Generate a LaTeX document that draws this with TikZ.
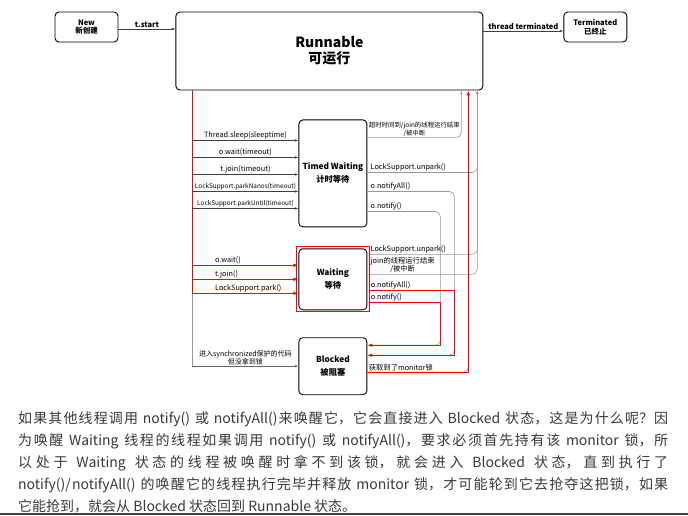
\documentclass[tikz,border=0pt]{standalone}
\usepackage{fontspec}
\setmainfont{Noto Sans CJK SC}
\usepackage{xcolor}
\usepackage{tikz}
\usetikzlibrary{positioning}
\usetikzlibrary{arrows.meta}

\begin{document}
\begin{tikzpicture}[x=1pt, y=-1pt]

        \def\d{21pt}
        \def\h{27pt}

        % Styles of the states and of the transitions
        \tikzset{
            state/.style={draw, rounded corners=4pt, line width=0.9pt,
                align=center, inner sep=1pt},
            bigstate/.style={state, minimum width=68pt,
                font=\fontsize{8.3}{13}\selectfont\bfseries},
            lbl/.style={font=\fontsize{7.3}{8}\selectfont, inner sep=1pt},
            lbls/.style={font=\fontsize{6.4}{7.5}\selectfont, inner sep=1pt},
            darr/.style={draw=black!75, line width=0.5pt,
                -{Latex[length=3.5pt, width=2.4pt]}},
            garr/.style={draw=black!40, line width=0.6pt, rounded corners=5pt,
                -{Latex[length=3.5pt, width=2.4pt]}},
            rarr/.style={draw=red, line width=1pt,
                -{Latex[length=5pt, width=3.6pt]}}
        }

        \useasboundingbox (0,0) rectangle (688,516);

        % Scope with the states
        \begin{scope}
            \node[state, minimum width=63pt, minimum height=30pt,
                font=\fontsize{7.5}{8.5}\selectfont\bfseries]
                (new) at (86.5, 27) {New\\新创建};
            \node[state, minimum width=307pt, minimum height=78pt,
                font=\fontsize{14}{16}\selectfont\bfseries]
                (run) [right=57pt of new.north east, anchor=north west]
                {Runnable\\可运行};
            \node[state, minimum width=63pt, minimum height=30pt,
                font=\fontsize{7.5}{8.5}\selectfont\bfseries]
                (term) [right=80pt of run.north east, anchor=north west]
                {Terminated\\已终止};
            \node[bigstate, minimum height=107pt]
                (tw) [below=29pt of run.south, xshift=3.5pt]
                {Timed Waiting\\计时等待};
            \node[bigstate, minimum height=61pt]
                (wt) [below=\d of tw] {Waiting\\等待};
            \node[bigstate, minimum height=57pt]
                (bl) [below=\h of wt] {Blocked\\被阻塞};
        \end{scope}

        % Points where the lines leave and join the states
        \coordinate (ts) at ([yshift=-2pt]new.east);
        \coordinate (tt) at ([yshift=-4pt]term.west);
        \coordinate (bus) at ([xshift=17pt]run.south west);
        \coordinate (w1) at ([yshift=14pt]wt.west);
        \coordinate (w2) at (wt.west);
        \coordinate (w3) at ([yshift=-14pt]wt.west);
        \coordinate (rA) at ([xshift=-22pt]run.south east);
        \coordinate (rB) at ([xshift=-15pt]run.south east);
        \coordinate (rC) at ([xshift=-6pt]run.south east);
        \coordinate (bA) at ([yshift=-8pt]bl.north east);
        \coordinate (bB) at ([yshift=-18pt]bl.north east);
        \coordinate (bC) at ([yshift=-35pt]bl.north east);
        \coordinate (t1) at ([yshift=-18pt]tw.north east);
        \coordinate (t2) at ([yshift=-53pt]tw.north east);
        \coordinate (t3) at ([yshift=-72pt]tw.north east);
        \coordinate (t4) at ([yshift=-92pt]tw.north east);
        \coordinate (v1) at ([shift={(2pt,-6pt)}]wt.north east);
        \coordinate (v2) at ([shift={(2pt,-26pt)}]wt.north east);
        \coordinate (v3) at ([shift={(2pt,-42pt)}]wt.north east);
        \coordinate (v4) at ([shift={(2pt,-54pt)}]wt.north east);

        \begin{scope}
            \draw[darr] (ts) -- (ts -| run.west)
                node[midway, above, lbl, font=\fontsize{7.5}{8}\selectfont\bfseries]
                {t.start};
            \draw[darr] (tt -| run.east) -- (tt)
                node[midway, above, lbl, font=\fontsize{7.5}{8}\selectfont\bfseries]
                {thread terminated};

            % left bus
            \draw[black!40, line width=0.6pt] (bus |- w3) -- (bus |- bl.west);
            \draw[darr, draw=black!60] (bus |- bl.west) -- (bl.west)
                node[midway, above, lbl, align=center, font=\fontsize{7}{8}\selectfont]
                {进入synchronized保护的代码\\但没拿到锁};
            \foreach \dy/\txt in {21/Thread.sleep(sleeptime), 38/o.wait(timeout),
                55/t.join(timeout)}
            {
                \coordinate (e) at ([yshift=-\dy pt]tw.north west);
                \draw[darr] (bus |- e) -- (e) node[midway, above, lbl] {\txt};
            }
            \foreach \dy/\txt in {72/LockSupport.parkNanos(timeout),
                89/LockSupport.parkUntil(timeout)}
            {
                \coordinate (e) at ([yshift=-\dy pt]tw.north west);
                \draw[darr] (bus |- e) -- (e) node[midway, above, lbls] {\txt};
            }

            % back to Runnable and on to Blocked
            \draw[garr] (t1) -| (rA)
                node[pos=0.25, above, lbls, align=center]
                {超时时间到/join的线程运行结束\\/被中断};
            \draw[garr] (t2) node[above right, lbl, xshift=2pt]
                {LockSupport.unpark()} -| (rC);
            \draw[garr] (t3) node[above right, lbl, xshift=2pt]
                {o.notifyAll()} -| ([xshift=87pt]bB) -- (bB);
            \draw[garr] (t4) node[above right, lbl, xshift=2pt]
                {o.notify()} -| ([xshift=73pt]bA) -- (bA);
            \draw[garr] (v1) node[above right, lbl] {LockSupport.unpark()} -| (rC);
            \draw[garr] (v2) node[above right, lbl, align=center]
                {join的线程运行结束\\/被中断} -| (rC);
            \draw[garr, -] (bC) -| (rB);
        \end{scope}

        % red path of the Waiting state
        \begin{scope}
            \draw[red, line width=1pt] ([shift={(-2pt,1.5pt)}]wt.north west)
                rectangle ([shift={(2pt,-1.5pt)}]wt.south east);
            \draw[red, line width=1.2pt] (bus) -- (bus |- w3);
            \foreach \p/\txt in {w1/o.wait(), w2/t.join(), w3/LockSupport.park()}
                \draw[rarr] (bus |- \p) -- (\p)
                    node[pos=0.2, above right, lbl] {\txt};
            \draw[rarr] (v3) node[above right, lbl] {o.notifyAll()}
                -| ([xshift=87pt]bB) -- (bB);
            \draw[rarr] (v4) node[above right, lbl] {o.notify()}
                -| ([xshift=73pt]bA) -- (bA);
            \draw[rarr] (bC) node[above right, lbl] {获取到了monitor锁} -| (rB);
        \end{scope}

        \node[anchor=north west, inner sep=0pt, text width=650pt, align=justify,
            text=black!78, font=\fontsize{14}{22}\selectfont] (para) at (18, 411.5)
            {\XeTeXlinebreaklocale "zh"\XeTeXlinebreakskip=0pt plus 1pt\tolerance=10000
            如果其他线程调用 notify() 或 notifyAll()来唤醒它，它会直接进入 Blocked 状态，这是为什么呢？因\linebreak
            为唤醒 Waiting 线程的线程如果调用 notify() 或 notifyAll()，要求必须首先持有该 monitor 锁，所\linebreak
            以处于 Waiting 状态的线程被唤醒时拿不到该锁，就会进入 Blocked 状态，直到执行了\linebreak
            notify()/notifyAll() 的唤醒它的线程执行完毕并释放 monitor 锁，才可能轮到它去抢夺这把锁，如果\linebreak
            它能抢到，就会从 Blocked 状态回到 Runnable 状态。};
        \draw[black!75, line width=2pt] (0,514) -- (688,514);

        \end{tikzpicture}
\end{document}
